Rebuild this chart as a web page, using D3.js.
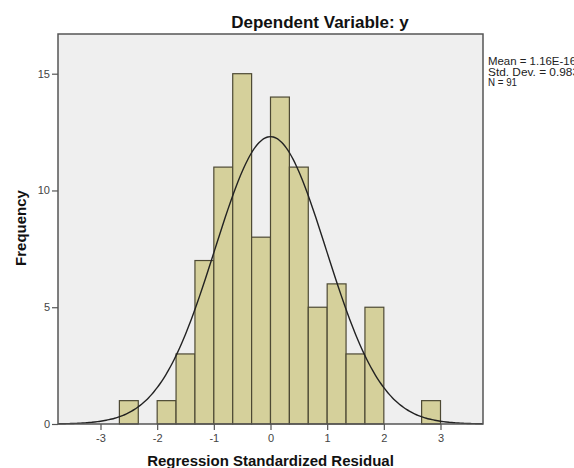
<!DOCTYPE html>
<html>
<head>
<meta charset="utf-8">
<script src="https://cdn.jsdelivr.net/npm/d3@7"></script>
<style>
  body { margin: 0; background: #fff; }
  text { font-family: "Liberation Sans", Arial, sans-serif; }
</style>
</head>
<body>
<div id="chart"></div>
<script>
// Histogram data (bin edges in residual units, width 1/3)
var binStarts = [-8/3, -7/3, -2, -5/3, -4/3, -1, -2/3, -1/3, 0, 1/3, 2/3, 1, 4/3, 5/3, 2, 7/3, 8/3];
var counts    = [1, 0, 1, 3, 7, 11, 15, 8, 14, 11, 5, 6, 3, 5, 0, 0, 1];
var binWidth = 1/3;

var xTicks = [-3, -2, -1, 0, 1, 2, 3];
var yTicks = [0, 5, 10, 15];

var statMean = 1.16e-16, statSd = 0.983, statN = 91;
var statLines = ["Mean = 1.16E-16", "Std. Dev. = 0.983", "N = 91"];

var W = 574, H = 468;
var plotL = 58, plotR = 483, plotT = 34, plotB = 424;
var statTextWidths = [88, 91, 29];

var svg = d3.select("#chart").append("svg")
    .attr("width", W)
    .attr("height", H);

var x = d3.scaleLinear().domain([-3.75, 3.75]).range([plotL, plotR]);
var y = d3.scaleLinear().domain([0, 16.7]).range([plotB, plotT]);

// plot background
svg.append("rect")
    .attr("x", plotL).attr("y", plotT)
    .attr("width", plotR - plotL).attr("height", plotB - plotT)
    .attr("fill", "#efefef");

// bars
var bins = binStarts.map(function(s, i) { return {x0: s, n: counts[i]}; })
  .filter(function(d) { return d.n > 0; });

svg.append("g").selectAll("rect")
  .data(bins)
  .enter().append("rect")
    .attr("x", function(d) { return x(d.x0); })
    .attr("y", function(d) { return y(d.n); })
    .attr("width", function(d) { return x(d.x0 + binWidth) - x(d.x0); })
    .attr("height", function(d) { return y(0) - y(d.n); })
    .attr("fill", "#d5d09b")
    .attr("stroke", "#4d4934")
    .attr("stroke-width", 1.2);

// fitted normal curve from the reported statistics
var curvePts = d3.range(-3.75, 3.751, 0.05).map(function(v) {
  var z = (v - statMean) / statSd;
  return [v, statN * binWidth * Math.exp(-0.5 * z * z) / (statSd * Math.sqrt(2 * Math.PI))];
});
svg.append("path")
    .datum(curvePts)
    .attr("fill", "none")
    .attr("stroke", "#222")
    .attr("stroke-width", 1.4)
    .attr("d", d3.line()
      .x(function(d) { return x(d[0]); })
      .y(function(d) { return y(d[1]); })
      .curve(d3.curveBasis));

// frame
svg.append("rect")
    .attr("x", plotL).attr("y", plotT)
    .attr("width", plotR - plotL).attr("height", plotB - plotT)
    .attr("fill", "none")
    .attr("stroke", "#555")
    .attr("stroke-width", 1.5);

// axes
var fmt = function(d) { return String(d); };
var xAxis = svg.append("g")
    .attr("transform", "translate(0," + plotB + ")")
    .call(d3.axisBottom(x).tickValues(xTicks).tickSize(6).tickPadding(4).tickFormat(fmt));
var yAxis = svg.append("g")
    .attr("transform", "translate(" + plotL + ",0)")
    .call(d3.axisLeft(y).tickValues(yTicks).tickSize(6).tickPadding(2).tickFormat(fmt));

[xAxis, yAxis].forEach(function(a) {
  a.select(".domain").remove();
  a.selectAll(".tick line").attr("stroke", "#555").attr("stroke-width", 1.2);
  a.selectAll(".tick text")
    .attr("fill", "#444")
    .style("font-size", "11px")
    .style("font-family", "Liberation Sans, Arial, sans-serif");
});

// titles
svg.append("text")
    .attr("x", 320).attr("y", 28)
    .attr("text-anchor", "middle")
    .style("font-size", "17px")
    .style("font-weight", "bold")
    .attr("fill", "#111")
    .text("Dependent Variable: y");

svg.append("text")
    .attr("x", (plotL + plotR) / 2).attr("y", 466)
    .attr("text-anchor", "middle")
    .style("font-size", "15px")
    .style("font-weight", "bold")
    .attr("fill", "#111")
    .text("Regression Standardized Residual");

svg.append("text")
    .attr("transform", "translate(26,228) rotate(-90)")
    .attr("text-anchor", "middle")
    .style("font-size", "15px")
    .style("font-weight", "bold")
    .attr("fill", "#111")
    .text("Frequency");

// stats legend (stretched text like the SPSS output, runs off the right edge)
svg.append("g").selectAll("text")
  .data(statLines)
  .enter().append("text")
    .attr("x", 488)
    .attr("y", function(d, i) { return 65 + i * 10.5; })
    .attr("textLength", function(d, i) { return statTextWidths[i]; })
    .attr("lengthAdjust", "spacingAndGlyphs")
    .style("font-size", "10.5px")
    .attr("fill", "#222")
    .text(function(d) { return d; });
</script>
</body>
</html>
